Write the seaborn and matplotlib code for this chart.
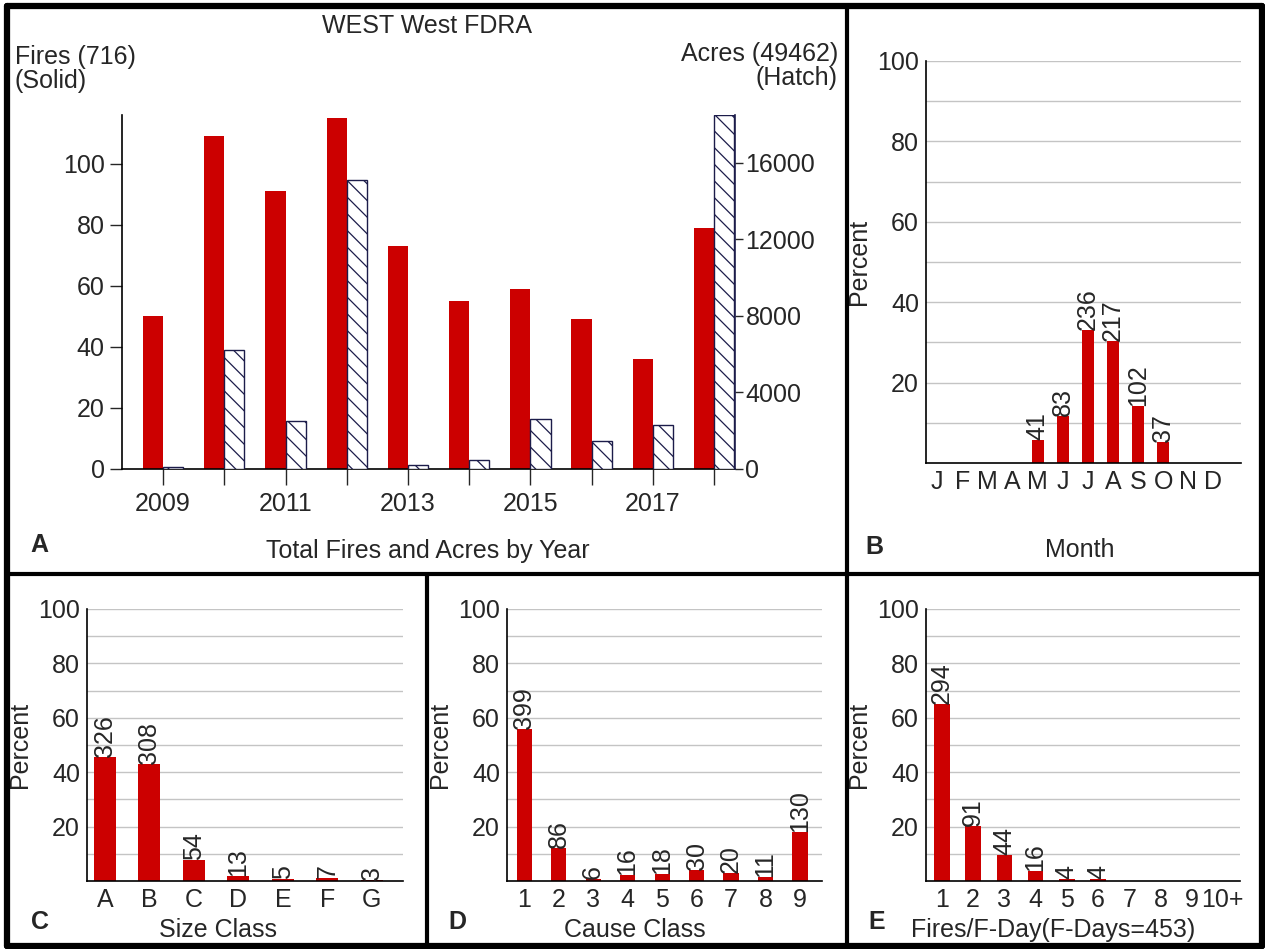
import numpy as np
import pandas as pd
import matplotlib
matplotlib.use('Agg')
import matplotlib.pyplot as plt
import seaborn as sns
from matplotlib.lines import Line2D

# data
years = [2009, 2010, 2011, 2012, 2013, 2014, 2015, 2016, 2017, 2018]
fires = [50, 109, 91, 115, 73, 55, 59, 49, 36, 79]
acres = [90, 6200, 2500, 15100, 210, 480, 2620, 1460, 2300, 18502]

month_keys = ['Jan', 'Feb', 'Mar', 'Apr', 'May', 'Jun', 'Jul', 'Aug', 'Sep', 'Oct', 'Nov', 'Dec']
month_ticks = ['J', 'F', 'M', 'A', 'M', 'J', 'J', 'A', 'S', 'O', 'N', 'D']
month_fires = [0, 0, 0, 0, 41, 83, 236, 217, 102, 37, 0, 0]

size_classes = ['A', 'B', 'C', 'D', 'E', 'F', 'G']
size_fires = [326, 308, 54, 13, 5, 7, 3]

cause_classes = ['1', '2', '3', '4', '5', '6', '7', '8', '9']
cause_fires = [399, 86, 6, 16, 18, 30, 20, 11, 130]

fday_classes = ['1', '2', '3', '4', '5', '6', '7', '8', '9', '10+']
fday_counts = [294, 91, 44, 16, 4, 4, 0, 0, 0, 0]

total_fires = sum(fires)
total_acres = sum(acres)
total_fdays = sum(fday_counts)

RED = '#cc0000'
NAVY = '#1c1c4a'
GRID = '#c4c4c4'
W, H = 1265, 949

sns.set_theme(style='white')
plt.rcParams['font.family'] = ['Liberation Sans', 'DejaVu Sans']
plt.rcParams['hatch.color'] = NAVY
plt.rcParams['hatch.linewidth'] = 0.9
FS = 18


def fx(x):
    return x / W


def fy(y):
    return 1 - y / H


def box(x0, y0, x1, y1):
    return [fx(x0), fy(y1), fx(x1) - fx(x0), fy(y0) - fy(y1)]


fig = plt.figure(figsize=(W / 100, H / 100), dpi=100)

# ---- panel A: fires and acres by year
axA = fig.add_axes(box(122, 115, 735, 469))
axA.bar(years, fires, width=-0.33, align='edge', color=RED, linewidth=0)
axA.set_xlim(2008.33, 2018.34)
axA.set_ylim(0, 116)
axA.set_yticks([0, 20, 40, 60, 80, 100])
axA.set_xticks(years)
axA.set_xticklabels([str(y) if (y - years[0]) % 2 == 0 else '' for y in years])
axA.tick_params(axis='y', direction='out', length=8.5, width=1, pad=4, labelsize=FS, left=True)
axA.tick_params(axis='x', direction='out', length=11.5, width=1, pad=5, labelsize=FS, bottom=True)
for s in ['top', 'right']:
    axA.spines[s].set_visible(False)
for s in ['left', 'bottom']:
    axA.spines[s].set_color('black')
    axA.spines[s].set_linewidth(1.2)

axA2 = axA.twinx()
axA2.bar(years, acres, width=0.33, align='edge', facecolor='white', edgecolor=NAVY,
         hatch='\\\\', linewidth=1)
axA2.set_ylim(0, 18502)
axA2.set_yticks([0, 4000, 8000, 12000, 16000])
axA2.tick_params(axis='y', direction='out', length=6, width=1, pad=1.5, labelsize=FS, right=True)
for s in ['top', 'left', 'bottom']:
    axA2.spines[s].set_visible(False)
axA2.spines['right'].set_color(NAVY)
axA2.spines['right'].set_linewidth(1.2)
axA2.grid(False)

fig.text(fx(427), fy(26), 'WEST West FDRA', ha='center', va='center', fontsize=FS)
fig.text(fx(15), fy(57), 'Fires (%d)' % total_fires, ha='left', va='center', fontsize=FS)
fig.text(fx(15), fy(81), '(Solid)', ha='left', va='center', fontsize=FS)
fig.text(fx(838), fy(54), 'Acres (%d)' % total_acres, ha='right', va='center', fontsize=FS)
fig.text(fx(838), fy(78), '(Hatch)', ha='right', va='center', fontsize=FS)
fig.text(fx(428), fy(551), 'Total Fires and Acres by Year', ha='center', va='center', fontsize=FS)


def pct_panel(rect, cats, counts, total, ticklabels, width, xlim):
    ax = fig.add_axes(rect)
    df = pd.DataFrame({'cat': cats, 'pct': [c / total * 100 for c in counts]})
    sns.barplot(data=df, x='cat', y='pct', order=cats, color=RED, saturation=1,
                width=width, linewidth=0, errorbar=None, ax=ax)
    ax.set_xlim(*xlim)
    ax.set_ylim(0, 100)
    ax.set_yticks([20, 40, 60, 80, 100])
    ax.set_yticks(np.arange(10, 101, 10), minor=True)
    ax.yaxis.grid(True, which='both', color=GRID, linewidth=1)
    ax.set_axisbelow(True)
    ax.set_xticks(range(len(cats)))
    ax.set_xticklabels(ticklabels)
    ax.tick_params(axis='both', which='both', length=0, pad=5, labelsize=FS)
    ax.set_xlabel('')
    ax.set_ylabel('Percent', fontsize=FS)
    ax.yaxis.set_label_coords(-0.175, 0.5)
    for s in ['top', 'right']:
        ax.spines[s].set_visible(False)
    for s in ['left', 'bottom']:
        ax.spines[s].set_color('black')
        ax.spines[s].set_linewidth(1.2)
    for i, (c, p) in enumerate(zip(counts, df['pct'])):
        if c > 0:
            ax.text(i, p, str(c), rotation=90, ha='center', va='bottom', fontsize=FS)
    return ax


# ---- panel B: month
pct_panel(box(926, 61, 1241, 463), month_keys, month_fires, total_fires, month_ticks,
          0.48, (-0.44, 12.1))
fig.text(fx(1080), fy(550), 'Month', ha='center', va='center', fontsize=FS)

# ---- panel C: size class
pct_panel(box(87, 609, 403, 881), size_classes, size_fires, total_fires, size_classes,
          0.49, (-0.4, 6.7))
fig.text(fx(218), fy(930), 'Size Class', ha='center', va='center', fontsize=FS)

# ---- panel D: cause class
pct_panel(box(507, 609, 822, 881), cause_classes, cause_fires, total_fires, cause_classes,
          0.44, (-0.5, 8.64))
fig.text(fx(635), fy(930), 'Cause Class', ha='center', va='center', fontsize=FS)

# ---- panel E: fires per fire day
pct_panel(box(926, 609, 1240, 881), fday_classes, fday_counts, total_fdays, fday_classes,
          0.5, (-0.51, 9.55))
fig.text(fx(1053), fy(930), 'Fires/F-Day(F-Days=%d)' % total_fdays, ha='center', va='center',
         fontsize=FS)

# panel letters
for letter, x, y in [('A', 39, 545), ('B', 874, 547), ('C', 40, 922), ('D', 457, 922), ('E', 877, 922)]:
    fig.text(fx(x), fy(y), letter, ha='center', va='center', fontsize=FS, fontweight='bold')

# panel frames
frame = [
    ((7, 1262), (6, 6), 4.5), ((7, 1262), (946, 946), 4.5),
    ((7, 7), (6, 946), 4.5), ((1262, 1262), (6, 946), 4.5),
    ((7, 1262), (574, 574), 3), ((847, 847), (6, 946), 3),
    ((427, 427), (574, 946), 3),
]
for xs, ys, lw in frame:
    fig.add_artist(Line2D([fx(xs[0]), fx(xs[1])], [fy(ys[0]), fy(ys[1])], color='black',
                          linewidth=lw, transform=fig.transFigure))

fig.savefig('out.png', dpi=100)
